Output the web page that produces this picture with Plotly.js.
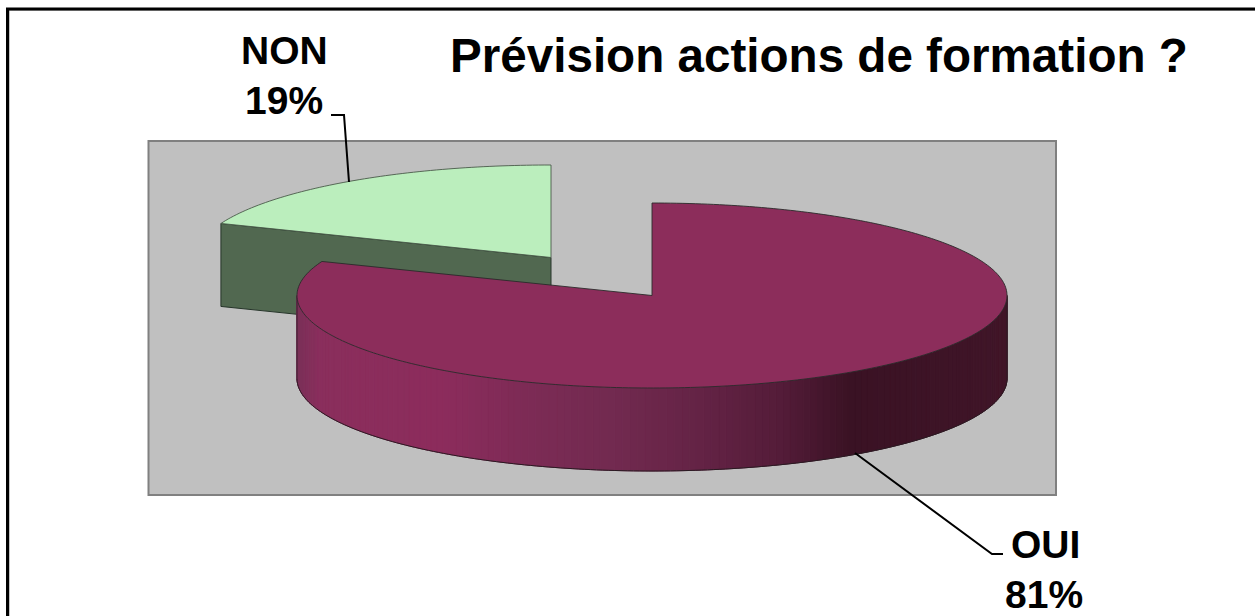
<!DOCTYPE html>
<html><head><meta charset="utf-8">
<script src="https://cdn.plot.ly/plotly-3.0.1.min.js"></script>
<style>html,body{margin:0;padding:0;background:#fff;overflow:hidden}#c{width:1255px;height:616px}</style>
</head><body><div id="c"></div><script>
const categories = ['OUI', 'NON'];
const shares = [81, 19];
const titleText = 'Prévision actions de formation ?';
const sliceColors = {OUI: '#8c2d5b', NON: '#bbeebd'};
const nonSideColor = '#516850';
const sideRamp = [[296,'#7a3058'],[320,'#8a2e5c'],[440,'#8c2c5c'],[530,'#7c2b55'],[610,'#722a50'],[700,'#642345'],[780,'#541c39'],[850,'#3a1224'],[1008,'#401528']];

const RX = 355, RY = 92.5, DEPTH = 83;
const centers = {OUI: [652, 295.5], NON: [551, 257.5]};
const total = shares.reduce((a, b) => a + b, 0);
const splitDeg = 360 * shares[0] / total;
const rad = d => d * Math.PI / 180;
const pt = (c, deg, dy = 0) => [c[0] + RX * Math.sin(rad(deg)), c[1] - RY * Math.cos(rad(deg)) + dy];
function arc(c, a, b, dy = 0, step = 1) {
  const n = Math.max(2, Math.ceil(Math.abs(b - a) / step)), out = [];
  for (let i = 0; i <= n; i++) out.push(pt(c, a + (b - a) * i / n, dy));
  return out;
}
function hex(h) { return [1, 3, 5].map(i => parseInt(h.substr(i, 2), 16)); }
function rampAt(x) {
  for (let i = 1; i < sideRamp.length; i++) {
    if (x <= sideRamp[i][0]) {
      const [x0, a] = sideRamp[i - 1], [x1, b] = sideRamp[i];
      const t = Math.max(0, (x - x0) / (x1 - x0));
      const A = hex(a), B = hex(b);
      return 'rgb(' + A.map((v, k) => Math.round(v + (B[k] - v) * t)).join(',') + ')';
    }
  }
  return sideRamp[sideRamp.length - 1][1];
}
function poly(points, fill, line, width) {
  return {type: 'scatter', mode: 'lines', x: points.map(p => p[0]), y: points.map(p => p[1]),
    fill: 'toself', fillcolor: fill, line: {color: line || fill, width: width === undefined ? 1 : width, simplify: false},
    hoverinfo: 'skip', showlegend: false};
}
function path(points, color, width) {
  return {type: 'scatter', mode: 'lines', x: points.map(p => p[0]), y: points.map(p => p[1]),
    line: {color: color, width: width, simplify: false}, hoverinfo: 'skip', showlegend: false};
}
const edge = '#2a2a2a', traces = [];

// NON slice: cut face then top
const cN = centers.NON, nA = pt(cN, splitDeg);
traces.push(poly([nA, cN, [cN[0], cN[1] + DEPTH], [nA[0], nA[1] + DEPTH], nA], nonSideColor, '#26352a', 1));
traces.push(poly([cN, ...arc(cN, splitDeg, 360), cN], sliceColors.NON, '#4a5a4a', 0.9));

// OUI slice: shaded rim in strips, then top
const cO = centers.OUI;
const stripEnd = Math.min(270, splitDeg), STEP = 1.2;
for (let a = 90; a < stripEnd - 1e-6; a += STEP) {
  const b = Math.min(stripEnd, a + STEP);
  const top = arc(cO, a, b, 0, STEP), bot = arc(cO, b, a, DEPTH, STEP);
  traces.push(poly([...top, ...bot, top[0]], rampAt(pt(cO, (a + b) / 2)[0]), null, 1));
}
traces.push(path(arc(cO, 90, 270, DEPTH), '#2a1a22', 1));
traces.push(path([pt(cO, 90), pt(cO, 90, DEPTH)], '#2a1a22', 1));
traces.push(path([pt(cO, 270), pt(cO, 270, DEPTH)], '#3a2030', 1));
traces.push(poly([cO, ...arc(cO, 0, splitDeg), cO], sliceColors.OUI, edge, 0.9));

// leader lines
const NON_LEADER = {x: [331, 344, 349], y: [115, 115, 182]};
const OUI_LEADER = {x: [855, 992, 1003], y: [453, 554, 554]};
traces.push(path(NON_LEADER.x.map((x, i) => [x, NON_LEADER.y[i]]), '#000', 2));
traces.push(path(OUI_LEADER.x.map((x, i) => [x, OUI_LEADER.y[i]]), '#000', 2));

const font = {family: '"Liberation Sans", Arial, sans-serif', size: 39, color: '#000'};
function label(text, x, y) {
  return {text: '<b>' + text + '</b>', x: x, y: y, xref: 'x', yref: 'y', xanchor: 'center', yanchor: 'middle', showarrow: false, font: font};
}
const annotations = [
  label(categories[1], 284, 50), label(shares[1] + '%', 284, 100),
  label(categories[0], 1045, 544), label(shares[0] + '%', 1044, 594)
];

const shapes = [
  {type: 'rect', xref: 'x', yref: 'y', x0: 148.5, x1: 1056, y0: 141, y1: 495, fillcolor: '#c0c0c0', line: {color: '#808080', width: 2}, layer: 'below'},
  {type: 'rect', xref: 'x', yref: 'y', x0: 9, x1: 1256, y0: 10, y1: 620, fillcolor: 'rgba(0,0,0,0)', line: {color: '#8a8a8a', width: 1}, layer: 'below'},
  {type: 'rect', xref: 'x', yref: 'y', x0: 7.5, x1: 1258, y0: 9, y1: 622, fillcolor: 'rgba(0,0,0,0)', line: {color: '#000', width: 3}, layer: 'below'}
];

const layout = {
  width: 1255, height: 616, margin: {l: 0, r: 0, t: 0, b: 0},
  paper_bgcolor: '#fff', plot_bgcolor: 'rgba(0,0,0,0)', showlegend: false, hovermode: false,
  title: {text: '<b>' + titleText + '</b>', x: 450 / 1255, xanchor: 'left', xref: 'paper',
    y: 1 - 55 / 616, yanchor: 'middle', yref: 'paper', pad: {l: 0, r: 0, t: 0, b: 0},
    font: {family: '"Liberation Sans", Arial, sans-serif', size: 47.6, color: '#000'}},
  xaxis: {range: [0, 1255], visible: false, fixedrange: true},
  yaxis: {range: [616, 0], visible: false, fixedrange: true},
  annotations: annotations, shapes: shapes
};
Plotly.newPlot('c', traces, layout, {displayModeBar: false, staticPlot: true});
</script></body></html>
